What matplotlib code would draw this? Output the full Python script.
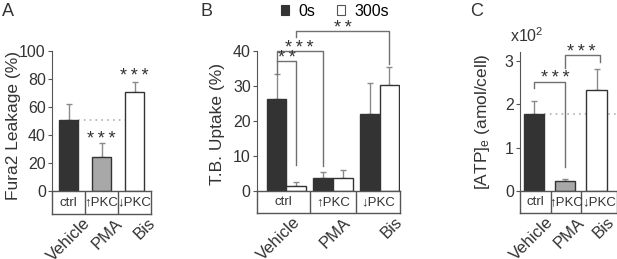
import matplotlib
matplotlib.use("Agg")
from matplotlib import pyplot as plt
from matplotlib.patches import Patch
from matplotlib import transforms

plt.rcParams['font.family'] = ['Liberation Sans', 'DejaVu Sans']
plt.rcParams['mathtext.default'] = 'regular'

W, H = 617, 259

groups = ["Vehicle", "PMA", "Bis"]
treat = ["ctrl", "\u2191PKC", "\u2193PKC"]

# panel A
fura_mean = [51, 24.5, 71]
fura_err = [11, 9.5, 7]
# panel B
tb_0s = [26.3, 3.6, 22.0]
tb_0s_err = [7.0, 1.8, 9.0]
tb_300s = [1.5, 3.8, 30.2]
tb_300s_err = [1.2, 2.3, 5.3]
# panel C (x10^2)
atp_mean = [1.78, 0.23, 2.32]
atp_err = [0.30, 0.05, 0.50]

DARK = "#333333"
GREY = "#a8a8a8"
EDGE = "#333333"
LINE = "#555555"
ERRC = "#8a8a8a"
BRC = "#707070"
TXT = "#333333"

fig = plt.figure(figsize=(W / 100, H / 100), dpi=100)


def px_axes(left, right, top, bottom):
    return fig.add_axes([left / W, 1 - bottom / H, (right - left) / W, (bottom - top) / H])


def style_main(ax, ylim, ticks):
    ax.set_ylim(*ylim)
    ax.set_yticks(ticks)
    for s in ["top", "right", "bottom"]:
        ax.spines[s].set_visible(False)
    ax.spines["left"].set_color(LINE)
    ax.spines["left"].set_bounds(ylim[0], ylim[1])
    ax.tick_params(axis="y", direction="out", length=3, width=0.8, color=LINE,
                   labelsize=11.5, pad=1.5, labelcolor=TXT)
    ax.set_xticks([])
    ax.patch.set_alpha(0)


def table(ax, xlim, dividers, centers, left, right, top, bottom, offx):
    t = px_axes(left, right, top, bottom)
    t.set_xlim(*xlim)
    t.set_ylim(0, 1)
    t.set_xticks([])
    t.set_yticks([])
    for s in t.spines.values():
        s.set_color(LINE)
        s.set_linewidth(1)
    for d in dividers:
        t.axvline(d, color=LINE, lw=1)
    edges = [xlim[0]] + list(dividers) + [xlim[1]]
    for i, lab in enumerate(treat):
        t.text((edges[i] + edges[i + 1]) / 2, 0.5, lab, ha="center", va="center",
               fontsize=9.5, color=TXT)
    tr = transforms.blended_transform_factory(t.transData, t.transAxes)
    for c, g, ox in zip(centers, groups, offx):
        off = transforms.offset_copy(tr, fig=fig, x=ox * 0.72, y=-1.5 * 0.72, units="points")
        t.text(c, 0, g, transform=off, rotation=45, ha="right", va="top",
               rotation_mode="anchor", fontsize=12, color=TXT)
    return t


def stars(ax, x, y, label):
    ax.text(x, y, "\u2009".join(label), ha="center", va="center", fontsize=13, color=TXT)


def bracket(ax, x1, x2, y, y1, y2, label, sy, sx=None):
    ax.plot([x1, x1, x2, x2], [y1, y, y, y2], color=BRC, lw=1, clip_on=False)
    if sx is None:
        sx = (x1 + x2) / 2
    stars(ax, sx, sy, label)


# ---------- A ----------
axA = px_axes(52, 151, 51, 191)
xs = [0, 1, 2]
w = 0.6
axA.set_xlim(-0.5, 2.5)
axA.bar(xs, fura_mean, w, color=[DARK, GREY, "white"], edgecolor=EDGE, lw=1, zorder=3)
axA.errorbar(xs, fura_mean, yerr=[[0, 0, 0], fura_err], fmt="none", ecolor=ERRC,
             elinewidth=1, capsize=2.5, zorder=2, clip_on=False)
axA.plot([w / 2, 2.4], [fura_mean[0]] * 2, ls=(0, (1, 2.5)), color="#b0b0b0", lw=1.2, zorder=1)
style_main(axA, (0, 100), [0, 20, 40, 60, 80, 100])
axA.set_ylabel("Fura2 Leakage (%)", fontsize=12.5, color=TXT)
axA.yaxis.set_label_coords(-0.31, 0.47)
stars(axA, 1, 37, "***")
stars(axA, 2, 82, "***")
table(axA, (-0.5, 2.5), [0.5, 1.5], xs, 52, 151, 191, 214, [14, 13, 13])
fig.text(8 / W, 1 - 12 / H, "A", fontsize=13, ha="center", va="center", color=TXT)

# ---------- B ----------
axB = px_axes(257, 400, 51, 191)
bw = 0.42
xlimB = (-0.634, 2.44)
axB.set_xlim(*xlimB)
x0 = [x - bw / 2 for x in xs]
x3 = [x + bw / 2 for x in xs]
axB.bar(x0, tb_0s, bw, color=DARK, edgecolor=EDGE, lw=1, zorder=3)
axB.bar(x3, tb_300s, bw, color="white", edgecolor=EDGE, lw=1, zorder=3)
axB.errorbar(x0, tb_0s, yerr=[[0, 0, 0], tb_0s_err], fmt="none", ecolor=ERRC,
             elinewidth=1, capsize=2.5, zorder=2)
axB.errorbar(x3, tb_300s, yerr=[[0, 0, 0], tb_300s_err], fmt="none", ecolor=ERRC,
             elinewidth=1, capsize=2.5, zorder=2)
style_main(axB, (0, 40), [0, 10, 20, 30, 40])
axB.set_ylabel("T.B. Uptake (%)", fontsize=12.5, color=TXT)
axB.yaxis.set_label_coords(-0.227, 0.48)
bracket(axB, x0[0], x3[0], 37.1, 33.4, 7.4, "**", 37.8, sx=0.0)
bracket(axB, x0[0], x0[1], 40.0, 37.1, 7.1, "***", 40.6, sx=0.28)
bracket(axB, x3[0], x3[2], 45.7, 44.0, 36.3, "**", 46.3)
table(axB, xlimB, [0.5, 1.5], xs, 257, 400, 191, 213, [6, 10, 15])
fig.text(206 / W, 1 - 12 / H, "B", fontsize=13, ha="center", va="center", color=TXT)
handles = [Patch(facecolor=DARK, edgecolor=DARK, lw=0.8), Patch(facecolor="white", edgecolor="#555555", lw=0.8)]
fig.legend(handles, ["0s", "300s"], loc="center", bbox_to_anchor=(335 / W, 1 - 11 / H),
           ncol=2, frameon=False, fontsize=11.5, handlelength=0.55, handleheight=0.55,
           handletextpad=0.6, columnspacing=1.3, borderpad=0)

# ---------- C ----------
axC = px_axes(520, 617, 52, 191)
cw = 0.65
xlimC = (-0.44, 2.65)
axC.set_xlim(*xlimC)
axC.bar(xs, atp_mean, cw, color=[DARK, GREY, "white"], edgecolor=EDGE, lw=1, zorder=3)
axC.errorbar(xs, atp_mean, yerr=[[0, 0, 0], atp_err], fmt="none", ecolor=ERRC,
             elinewidth=1, capsize=2.5, zorder=2)
axC.plot([cw / 2, 2.65], [atp_mean[0]] * 2, ls=(0, (1, 2.5)), color="#b0b0b0", lw=1.2, zorder=1)
style_main(axC, (0, 3.2), [0, 1, 2, 3])
axC.set_ylabel("[ATP]$_e$ (amol/cell)", fontsize=12.5, color=TXT)
axC.yaxis.set_label_coords(-0.284, 0.5)
axC.text(0.07, 1.05, "x10$^2$", transform=axC.transAxes, fontsize=11.5, ha="center",
         va="bottom", color=TXT)
bracket(axC, 0, 1, 2.52, 2.36, 0.55, "***", 2.59, sx=0.7)
bracket(axC, 1, 2.1, 3.12, 2.84, 2.98, "***", 3.19, sx=1.5)
table(axC, xlimC, [0.55, 1.5], xs, 520, 617, 191, 213, [12, 11, 10])
fig.text(477 / W, 1 - 12 / H, "C", fontsize=13, ha="center", va="center", color=TXT)

fig.savefig("out.png", dpi=100)
